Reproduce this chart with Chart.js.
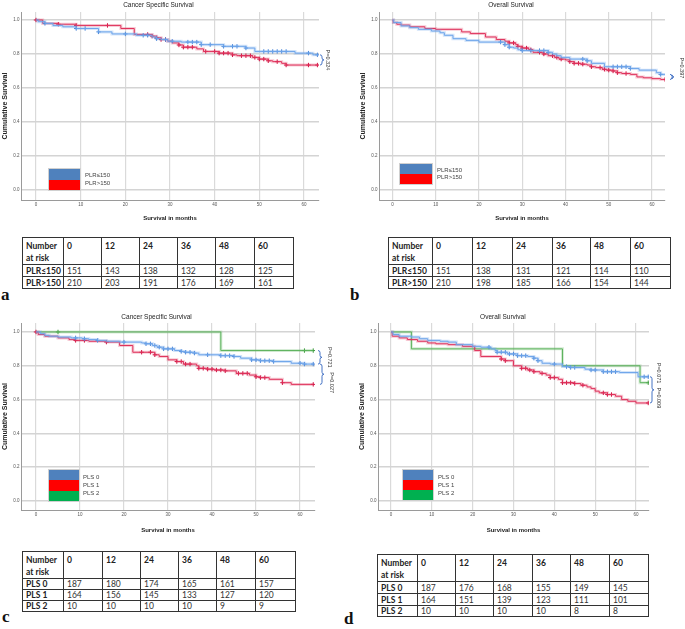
<!DOCTYPE html>
<html>
<head>
<meta charset="utf-8">
<script src="https://cdn.jsdelivr.net/npm/chart.js@4.4.1/dist/chart.umd.min.js"></script>
<style>
  body { margin: 0; background: #fff; width: 685px; height: 629px; position: relative; overflow: hidden; }
  canvas { position: absolute; }
  .risk { position: absolute; border-collapse: collapse; table-layout: fixed; font-family: Lato, "Open Sans", sans-serif; font-size: 8.5px; color: #333; }
  .risk td { border: 1px solid #333; padding: 0 0 0 3px; line-height: 10px; vertical-align: middle; white-space: nowrap; overflow: hidden; }
  .risk .hd td { vertical-align: top; font-weight: bold; color: #222; padding-top: 3px; line-height: 11.5px; }
  .risk td.nm { font-weight: bold; color: #222; }
  .leg { position: absolute; border: 1px solid #d0d0d0; }
  .leg div { width: 100%; }
  .lab { position: absolute; font-family: "Liberation Sans", Arial, sans-serif; font-size: 6px; color: #444; white-space: nowrap; }
  .tag { position: absolute; font-family: "Liberation Serif", "DejaVu Serif", serif; font-weight: bold; font-size: 17px; line-height: 17px; color: #111; }
</style>
</head>
<body>
<canvas id="chartA" width="340" height="225" style="left:0;top:0"></canvas>
<canvas id="chartB" width="330" height="225" style="left:355px;top:0"></canvas>
<canvas id="chartC" width="340" height="232" style="left:0;top:305px"></canvas>
<canvas id="chartD" width="330" height="232" style="left:355px;top:305px"></canvas>
<div class="tag" style="left:1px;top:286px">a</div>
<div class="tag" style="left:350px;top:286px">b</div>
<div class="tag" style="left:2px;top:608px">c</div>
<div class="tag" style="left:344px;top:610px">d</div>
<script>
const xTicks = [0, 10, 20, 30, 40, 50, 60];
const yTicks = [0, 0.2, 0.4, 0.6, 0.8, 1.0];
const riskTimes = [0, 12, 24, 36, 48, 60];
const plrGroups = ['PLR≤150', 'PLR>150'];
const plsGroups = ['PLS 0', 'PLS 1', 'PLS 2'];

// numbers at risk
const riskAPlrLow = [151, 143, 138, 132, 128, 125];
const riskAPlrHigh = [210, 203, 191, 176, 169, 161];
const riskBPlrLow = [151, 138, 131, 121, 114, 110];
const riskBPlrHigh = [210, 198, 185, 166, 154, 144];
const riskCPls0 = [187, 180, 174, 165, 161, 157];
const riskCPls1 = [164, 156, 145, 133, 127, 120];
const riskCPls2 = [10, 10, 10, 10, 9, 9];
const riskDPls0 = [187, 176, 168, 155, 149, 145];
const riskDPls1 = [164, 151, 139, 123, 111, 101];
const riskDPls2 = [10, 10, 10, 10, 8, 8];

// a - cancer specific survival by PLR (time, survival, censored times)
const aLowT = [0, 0.5, 2, 3.8, 6, 9, 14, 17, 22.5, 26, 27, 28, 29.5, 32.5, 37, 42, 47, 49, 58, 62, 63.2];
const aLowS = [1, 0.99, 0.98, 0.967, 0.96, 0.95, 0.93, 0.918, 0.91, 0.90, 0.89, 0.885, 0.875, 0.87, 0.855, 0.845, 0.835, 0.815, 0.805, 0.795, 0.795];
const aLowC = [2, 9, 11, 14, 20, 24, 25, 27, 29, 30.5, 34, 35, 36, 37, 39, 42, 44, 45, 47, 51, 52, 53, 54, 55, 56, 61, 63];
const aHighT = [0, 1.5, 5, 9, 19, 22, 26, 27, 28, 29.5, 30.5, 32, 33, 36, 37.5, 41, 44, 45, 48.5, 50, 52, 53, 55, 56, 63.2];
const aHighS = [1, 0.98, 0.975, 0.968, 0.95, 0.915, 0.905, 0.895, 0.885, 0.875, 0.865, 0.853, 0.84, 0.83, 0.815, 0.805, 0.795, 0.79, 0.78, 0.77, 0.76, 0.755, 0.745, 0.735, 0.735];
const aHighC = [0, 5, 9, 16, 25, 26, 27, 28, 29, 32, 33, 34, 35, 38, 40, 41, 42, 43, 44, 46, 47, 48, 49, 50, 51, 52, 54, 56, 61, 63];

// b - overall survival by PLR
const bLowT = [0, 0.3, 2, 4, 6, 9, 11, 12, 14, 17, 20, 26, 27, 28, 29, 30, 36, 37, 38, 39, 41, 45, 46, 49, 55, 57, 61, 62, 63];
const bLowS = [1, 0.985, 0.965, 0.955, 0.945, 0.935, 0.925, 0.91, 0.89, 0.88, 0.87, 0.855, 0.84, 0.835, 0.825, 0.82, 0.81, 0.80, 0.79, 0.78, 0.77, 0.76, 0.745, 0.725, 0.715, 0.705, 0.69, 0.68, 0.68];
const bLowC = [25, 26, 27, 30, 32, 34, 35, 36, 44, 45, 51, 52, 53, 54, 55, 62];
const bHighT = [0, 0.2, 1, 2, 4, 7.5, 10, 16, 18, 21.5, 24, 26, 27, 28.5, 29, 30, 31.5, 32.5, 35, 36, 37.5, 38.5, 40, 41, 42, 43.5, 45, 46, 47, 48.5, 49.5, 51, 52, 53, 55, 56.5, 58, 60, 62, 63];
const bHighS = [1, 0.985, 0.975, 0.97, 0.96, 0.95, 0.945, 0.93, 0.92, 0.90, 0.885, 0.875, 0.865, 0.855, 0.845, 0.835, 0.825, 0.81, 0.80, 0.79, 0.78, 0.77, 0.765, 0.755, 0.745, 0.74, 0.735, 0.725, 0.72, 0.71, 0.705, 0.70, 0.69, 0.685, 0.68, 0.665, 0.66, 0.655, 0.65, 0.65];
const bHighC = [27, 28, 29, 30, 31, 32, 34, 35, 37, 38, 39, 41, 42, 43, 44, 46, 48, 49, 50, 51, 52, 54, 63];

// c - cancer specific survival by PLS
const cPls0T = [0, 1, 2, 3, 5, 8, 10.5, 12, 14, 16, 19, 24, 25, 26.5, 27.5, 29, 31.5, 33, 34, 36, 37, 42, 45, 46.5, 49, 51, 54, 58, 61, 63];
const cPls0S = [1, 0.99, 0.98, 0.975, 0.97, 0.965, 0.96, 0.955, 0.95, 0.945, 0.94, 0.935, 0.93, 0.92, 0.91, 0.90, 0.89, 0.885, 0.88, 0.875, 0.865, 0.86, 0.855, 0.845, 0.835, 0.83, 0.825, 0.815, 0.81, 0.81];
const cPls0C = [9, 11, 14, 20, 25, 26, 27, 28, 29, 30, 31, 33, 34, 35, 36, 39, 42, 43, 44, 45, 49, 50, 51, 52, 53, 54, 60, 61, 63];
const cPls1T = [0, 0.5, 2, 5, 7.5, 9, 12, 16, 19, 22, 27, 28, 30, 32, 33.5, 36.5, 37, 39, 40.5, 43, 45.5, 48.5, 50, 51, 53, 56, 58, 63];
const cPls1S = [1, 0.985, 0.975, 0.965, 0.955, 0.95, 0.945, 0.94, 0.92, 0.88, 0.865, 0.855, 0.835, 0.825, 0.81, 0.80, 0.785, 0.78, 0.775, 0.77, 0.755, 0.745, 0.735, 0.73, 0.72, 0.70, 0.69, 0.69];
const cPls1C = [0, 9, 11, 16, 24, 26, 27, 32, 33, 34, 35, 37, 38, 39, 40, 41, 42, 43, 46, 47, 48, 50, 51, 52, 56, 63];
const cPls2T = [0, 42, 63];
const cPls2S = [1, 0.89, 0.89];
const cPls2C = [5, 61, 63];

// d - overall survival by PLS
const dPls0T = [0, 0.5, 2, 5, 7, 9, 12, 14, 16, 20, 22, 24.5, 25.5, 26, 28.5, 31, 33.5, 35, 36, 37, 39, 42, 44, 47.5, 49, 52, 56, 60.5, 63];
const dPls0S = [1, 0.985, 0.975, 0.97, 0.96, 0.95, 0.945, 0.94, 0.925, 0.915, 0.91, 0.90, 0.89, 0.88, 0.87, 0.86, 0.855, 0.845, 0.83, 0.815, 0.81, 0.795, 0.79, 0.78, 0.775, 0.765, 0.76, 0.735, 0.735];
const dPls0C = [24, 26, 27, 28, 29, 30, 31, 32, 33, 35, 36, 40, 43, 44, 45, 49, 50, 52, 53, 54, 55, 62, 63];
const dPls1T = [0, 0.3, 2, 4, 6.5, 9, 11, 14, 17.5, 20.5, 22, 27, 28, 30, 32, 33.5, 35, 36.5, 38, 39, 41, 42, 45, 46.5, 48, 49, 50, 51, 53, 55, 56.5, 58, 60, 63];
const dPls1S = [1, 0.975, 0.965, 0.955, 0.945, 0.935, 0.93, 0.925, 0.915, 0.89, 0.855, 0.84, 0.83, 0.80, 0.785, 0.775, 0.765, 0.755, 0.745, 0.73, 0.72, 0.70, 0.695, 0.685, 0.675, 0.665, 0.65, 0.64, 0.63, 0.62, 0.60, 0.59, 0.58, 0.58];
const dPls1C = [27, 28, 32, 33, 34, 35, 37, 39, 40, 42, 43, 44, 45, 47, 52, 53, 54, 63];
const dPls2T = [0, 5, 42, 61, 63];
const dPls2S = [1, 0.9, 0.8, 0.7, 0.7];
const dPls2C = [63];

const BLUE = { line: '#6ea5ea', halo: 'rgba(110,165,234,0.3)', mark: '#4a86d8', box: '#4f81bd' };
const RED = { line: '#e0325c', halo: 'rgba(224,50,92,0.25)', mark: '#d01040', box: '#ff0000' };
const GREEN = { line: '#5cb25c', halo: 'rgba(92,178,92,0.25)', mark: '#3c9a3c', box: '#00b050' };

Chart.defaults.font.family = '"Liberation Sans", Arial, sans-serif';

function stepAt(t, s, x) {
  let v = s[0];
  for (let i = 0; i < t.length; i++) if (t[i] <= x) v = s[i];
  return v;
}

function kmSets(t, s, c, col) {
  const pts = t.map((x, i) => ({ x: x, y: s[i] }));
  const cens = c.map(x => ({ x: x, y: stepAt(t, s, x) }));
  return [
    { data: pts, stepped: true, borderColor: col.halo, borderWidth: 3, pointRadius: 0 },
    { data: pts, stepped: true, borderColor: col.line, borderWidth: 1, pointRadius: 0 },
    { data: cens, showLine: false, pointStyle: 'cross', pointRadius: 2.2, borderColor: col.mark, borderWidth: 1 }
  ];
}

function brace(ctx, x, y1, y2, w) {
  const m = (y1 + y2) / 2;
  ctx.beginPath();
  ctx.moveTo(x, y1);
  ctx.quadraticCurveTo(x + w, y1, x + w, y1 + w);
  ctx.lineTo(x + w, m - w);
  ctx.quadraticCurveTo(x + w, m, x + 2 * w, m);
  ctx.quadraticCurveTo(x + w, m, x + w, m + w);
  ctx.lineTo(x + w, y2 - w);
  ctx.quadraticCurveTo(x + w, y2, x, y2);
  ctx.stroke();
}

const kmExtras = {
  id: 'kmExtras',
  afterDraw(chart, args, o) {
    const { ctx, chartArea, scales: { x, y } } = chart;
    ctx.save();
    ctx.fillStyle = '#222';
    ctx.font = '6.5px "Liberation Sans", Arial, sans-serif';
    ctx.textAlign = 'center';
    ctx.textBaseline = 'middle';
    ctx.fillText(o.title, x.getPixelForValue(o.titleAt), o.titleY);
    ctx.strokeStyle = '#4472c4';
    ctx.lineWidth = 1;
    o.braces.forEach(b => brace(ctx, chartArea.right + b.dx, y.getPixelForValue(b.from), y.getPixelForValue(b.to), 2));
    ctx.fillStyle = '#333';
    ctx.font = '5.5px "Liberation Sans", Arial, sans-serif';
    o.pvals.forEach(p => {
      ctx.save();
      ctx.translate(chartArea.right + p.dx, y.getPixelForValue(p.at));
      ctx.rotate(Math.PI / 2);
      ctx.fillText(p.text, 0, 0);
      ctx.restore();
    });
    ctx.restore();
  }
};

function makeChart(id, sets, o) {
  return new Chart(document.getElementById(id), {
    type: 'line',
    data: { datasets: sets },
    options: {
      responsive: false,
      animation: false,
      layout: { padding: { top: o.top, right: o.right, left: 0, bottom: 0 } },
      plugins: {
        legend: { display: false },
        tooltip: { enabled: false },
        kmExtras: { title: o.title, titleAt: 27.4, titleY: o.titleY, braces: o.braces, pvals: o.pvals }
      },
      scales: {
        x: {
          type: 'linear', min: o.xMin, max: o.xMax,
          afterBuildTicks: s => { s.ticks = xTicks.map(v => ({ value: v })); },
          afterFit: s => { s.height = o.xH; },
          grid: { color: '#dadada', lineWidth: 1.2, drawTicks: false },
          border: { color: '#9a9a9a' },
          ticks: { font: { size: 4.5 }, color: '#555', padding: 2.3, maxRotation: 0 },
          title: { display: true, text: 'Survival in months', font: { size: 6, weight: 'bold' }, color: '#222', padding: { top: 0, bottom: 3.4 } }
        },
        y: {
          min: o.yMin, max: o.yMax,
          afterBuildTicks: s => { s.ticks = yTicks.map(v => ({ value: v })); },
          afterFit: s => { s.width = o.yW; },
          grid: { color: '#d4d4d4', lineWidth: 1.5, drawTicks: false },
          border: { color: '#9a9a9a' },
          ticks: { font: { size: 4.5 }, color: '#555', padding: 1.5, callback: v => v.toFixed(1) },
          title: { display: true, text: 'Cumulative Survival', font: { size: 7, weight: 'bold' }, color: '#222', padding: { top: o.yTitlePad, bottom: 0 } }
        }
      }
    },
    plugins: [kmExtras]
  });
}

makeChart('chartA', [...kmSets(aLowT, aLowS, aLowC, BLUE), ...kmSets(aHighT, aHighS, aHighC, RED)], {
  top: 12, right: 21, yW: 21, xH: 25, xMin: -3.36, xMax: 63.36, yMin: -0.059, yMax: 1.047, yTitlePad: 0.8,
  title: 'Cancer Specific Survival', titleY: 5,
  braces: [{ from: aLowS.at(-1), to: aHighS.at(-1), dx: 1 }],
  pvals: [{ text: 'P=0.324', at: 0.765, dx: 9 }]
});
makeChart('chartB', [...kmSets(bLowT, bLowS, bLowC, BLUE), ...kmSets(bHighT, bHighS, bHighC, RED)], {
  top: 12, right: 20, yW: 24, xH: 25, xMin: -3.1, xMax: 63.0, yMin: -0.059, yMax: 1.047, yTitlePad: 3.8,
  title: 'Overall Survival', titleY: 5,
  braces: [{ from: bLowS.at(-1), to: bHighS.at(-1), dx: 5 }],
  pvals: [{ text: 'P=0.397', at: 0.718, dx: 17 }]
});
makeChart('chartC', [...kmSets(cPls0T, cPls0S, cPls0C, BLUE), ...kmSets(cPls1T, cPls1S, cPls1C, RED), ...kmSets(cPls2T, cPls2S, cPls2C, GREEN)], {
  top: 18, right: 25, yW: 21, xH: 27, xMin: -3.41, xMax: 63.4, yMin: -0.053, yMax: 1.053, yTitlePad: 0.8,
  title: 'Cancer Specific Survival', titleY: 12,
  braces: [{ from: cPls2S.at(-1), to: cPls0S.at(-1), dx: 3 }, { from: cPls0S.at(-1), to: cPls1S.at(-1), dx: 5 }],
  pvals: [{ text: 'P=0.721', at: 0.85, dx: 15 }, { text: 'P=0.027', at: 0.70, dx: 17 }]
});
makeChart('chartD', [...kmSets(dPls0T, dPls0S, dPls0C, BLUE), ...kmSets(dPls1T, dPls1S, dPls1C, RED), ...kmSets(dPls2T, dPls2S, dPls2C, GREEN)], {
  top: 18, right: 36, yW: 23, xH: 27, xMin: -3.18, xMax: 63.19, yMin: -0.053, yMax: 1.053, yTitlePad: 2.8,
  title: 'Overall Survival', titleY: 12,
  braces: [{ from: dPls0S.at(-1), to: dPls1S.at(-1), dx: 1 }],
  pvals: [{ text: 'P=0.071', at: 0.757, dx: 10 }, { text: 'P=0.009', at: 0.61, dx: 10 }]
});

function legend(left, top, w, bandH, names, cols, labLeft, labH) {
  const box = document.createElement('div');
  box.className = 'leg';
  box.style.cssText = `left:${left}px;top:${top}px;width:${w}px`;
  cols.forEach(c => {
    const d = document.createElement('div');
    d.style.cssText = `height:${bandH}px;background:${c.box}`;
    box.appendChild(d);
  });
  document.body.appendChild(box);
  const mid = top + 1 + bandH * cols.length / 2;
  names.forEach((n, i) => {
    const l = document.createElement('div');
    l.className = 'lab';
    l.textContent = n;
    l.style.cssText = `left:${labLeft}px;top:${mid - labH * names.length / 2 + i * labH}px;line-height:${labH}px`;
    document.body.appendChild(l);
  });
}
legend(48, 168, 31, 10.5, plrGroups, [BLUE, RED], 85, 7.5);
legend(399, 163, 32, 10, plrGroups, [BLUE, RED], 437, 7.5);
legend(48, 469, 30, 10.3, plsGroups, [BLUE, RED, GREEN], 83, 8);
legend(402, 469, 30, 10, plsGroups, [BLUE, RED, GREEN], 438, 8);

function riskTable(left, top, colW, rowH, names, rows) {
  const tb = document.createElement('table');
  tb.className = 'risk';
  tb.style.left = left + 'px';
  tb.style.top = top + 'px';
  tb.style.width = colW.reduce((a, b) => a + b, 0) + 'px';
  const cg = document.createElement('colgroup');
  colW.forEach(w => { const c = document.createElement('col'); c.style.width = w + 'px'; cg.appendChild(c); });
  tb.appendChild(cg);
  let html = `<tr class="hd" style="height:${rowH[0]}px"><td>Number<br>at risk</td>` + riskTimes.map(t => `<td>${t}</td>`).join('') + '</tr>';
  rows.forEach((r, i) => {
    html += `<tr style="height:${rowH[i + 1]}px"><td class="nm">${names[i]}</td>` + r.map(v => `<td>${v}</td>`).join('') + '</tr>';
  });
  tb.insertAdjacentHTML('beforeend', html);
  document.body.appendChild(tb);
}
riskTable(22, 237, [41, 38, 38, 38, 38, 39, 39], [27, 12, 12], plrGroups, [riskAPlrLow, riskAPlrHigh]);
riskTable(388, 237, [44, 40, 40, 40, 38, 40, 40], [27, 12, 12], plrGroups, [riskBPlrLow, riskBPlrHigh]);
riskTable(22, 551, [41, 39, 38, 38, 38, 39, 40], [24, 11, 11, 11], plsGroups, [riskCPls0, riskCPls1, riskCPls2]);
riskTable(377, 554, [40, 38, 38, 39, 38, 39, 39], [24, 12, 12, 11], plsGroups, [riskDPls0, riskDPls1, riskDPls2]);
</script>
</body>
</html>
